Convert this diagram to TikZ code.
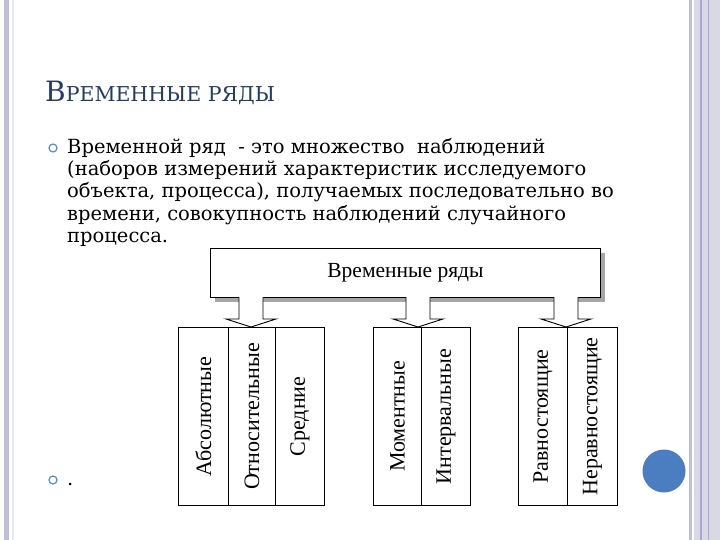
\documentclass[tikz,border=0pt]{standalone}
\usepackage{fontspec}
\setmainfont{DejaVu Serif}
\newfontfamily\tms{Liberation Serif}
\definecolor{dotblue}{HTML}{4A7EC0}
\definecolor{titleblue}{HTML}{233C64}
\begin{document}
\begin{tikzpicture}[x=1pt,y=-1pt,
  cell/.style={draw,line width=0.9pt,fill=white,anchor=north west,inner sep=0},
  vlab/.style={font=\tms\fontsize{22}{22}\selectfont,rotate=90},
  body/.style={anchor=base west,inner sep=0,font=\fontsize{19.5}{19.5}\selectfont},
  barrow/.style={draw,line width=0.9pt,fill=white}]
\useasboundingbox (0,0) rectangle (720,540);
\fill[white] (0,0) rectangle (720,540);
% decorations
\fill[blue!25!gray!40] (4,0) rectangle (9,540);
\fill[blue!10!gray!15] (12,0) rectangle (14,540);
\fill[blue!25!gray!40] (689,0) rectangle (692,540);
\fill[blue!20!gray!25] (694,0) rectangle (720,540);
\fill[blue!40!gray!50] (700,0) rectangle (702,540);
\fill[blue!40!gray!50] (708,0) rectangle (709,540);
\node[circle,fill=dotblue,minimum size=43pt,inner sep=0] (dot) at (664,471) {};
% title
\node[anchor=base west,inner sep=0,text=titleblue] (title) at (45,102)
 {\fontsize{28}{28}\selectfont В\fontsize{20.5}{20.5}\selectfont РЕМЕННЫЕ РЯДЫ};
% bullets
\node[circle,draw=cyan!50!blue!70,line width=1.2pt,minimum size=8pt,inner sep=0] (b1) at (53,148) {};
\node[circle,draw=cyan!50!blue!70,line width=1.2pt,minimum size=8pt,inner sep=0] (b2) at (53,480) {};
\node[body] (l1) at (67,154) {Временной ряд\ \ - это множество\ \ наблюдений};
\node[body] (l2) at (67,176) {(наборов измерений характеристик исследуемого};
\node[body] (l3) at (67,198) {объекта, процесса), получаемых последовательно во};
\node[body] (l4) at (67,221) {времени, совокупность наблюдений случайного};
\node[body] (l5) at (67,243) {процесса.};
\node[body] (l6) at (67,485) {.};
% top box
\fill[gray!70] (215,253) rectangle (605,302);
\node[cell,minimum width=390pt,minimum height=49pt,font=\tms\fontsize{21.5}{21.5}\selectfont] (top) at (210,248) {Временные ряды};
% cells
\foreach \nm/\x/\w/\t in {a/178/50/Абсолютные, b/228/47/Относительные, c/275/49/Средние,
  d/373/48/Моментные, e/421/49/Интервальные, f/518/49/Равностоящие, g/567/50/Неравностоящие}{
  \node[cell,minimum width=\w pt,minimum height=178pt] (\nm) at (\x,327) {};
  \node[vlab] at (\nm.center) {\t};
}
% block arrows
\foreach \cx in {251,418,566}{
  \draw[barrow] (\cx-12,297) -- (\cx-12,319) -- (\cx-25,319) -- (\cx,327) -- (\cx+25,319) -- (\cx+12,319) -- (\cx+12,297);
}
\end{tikzpicture}
\end{document}
